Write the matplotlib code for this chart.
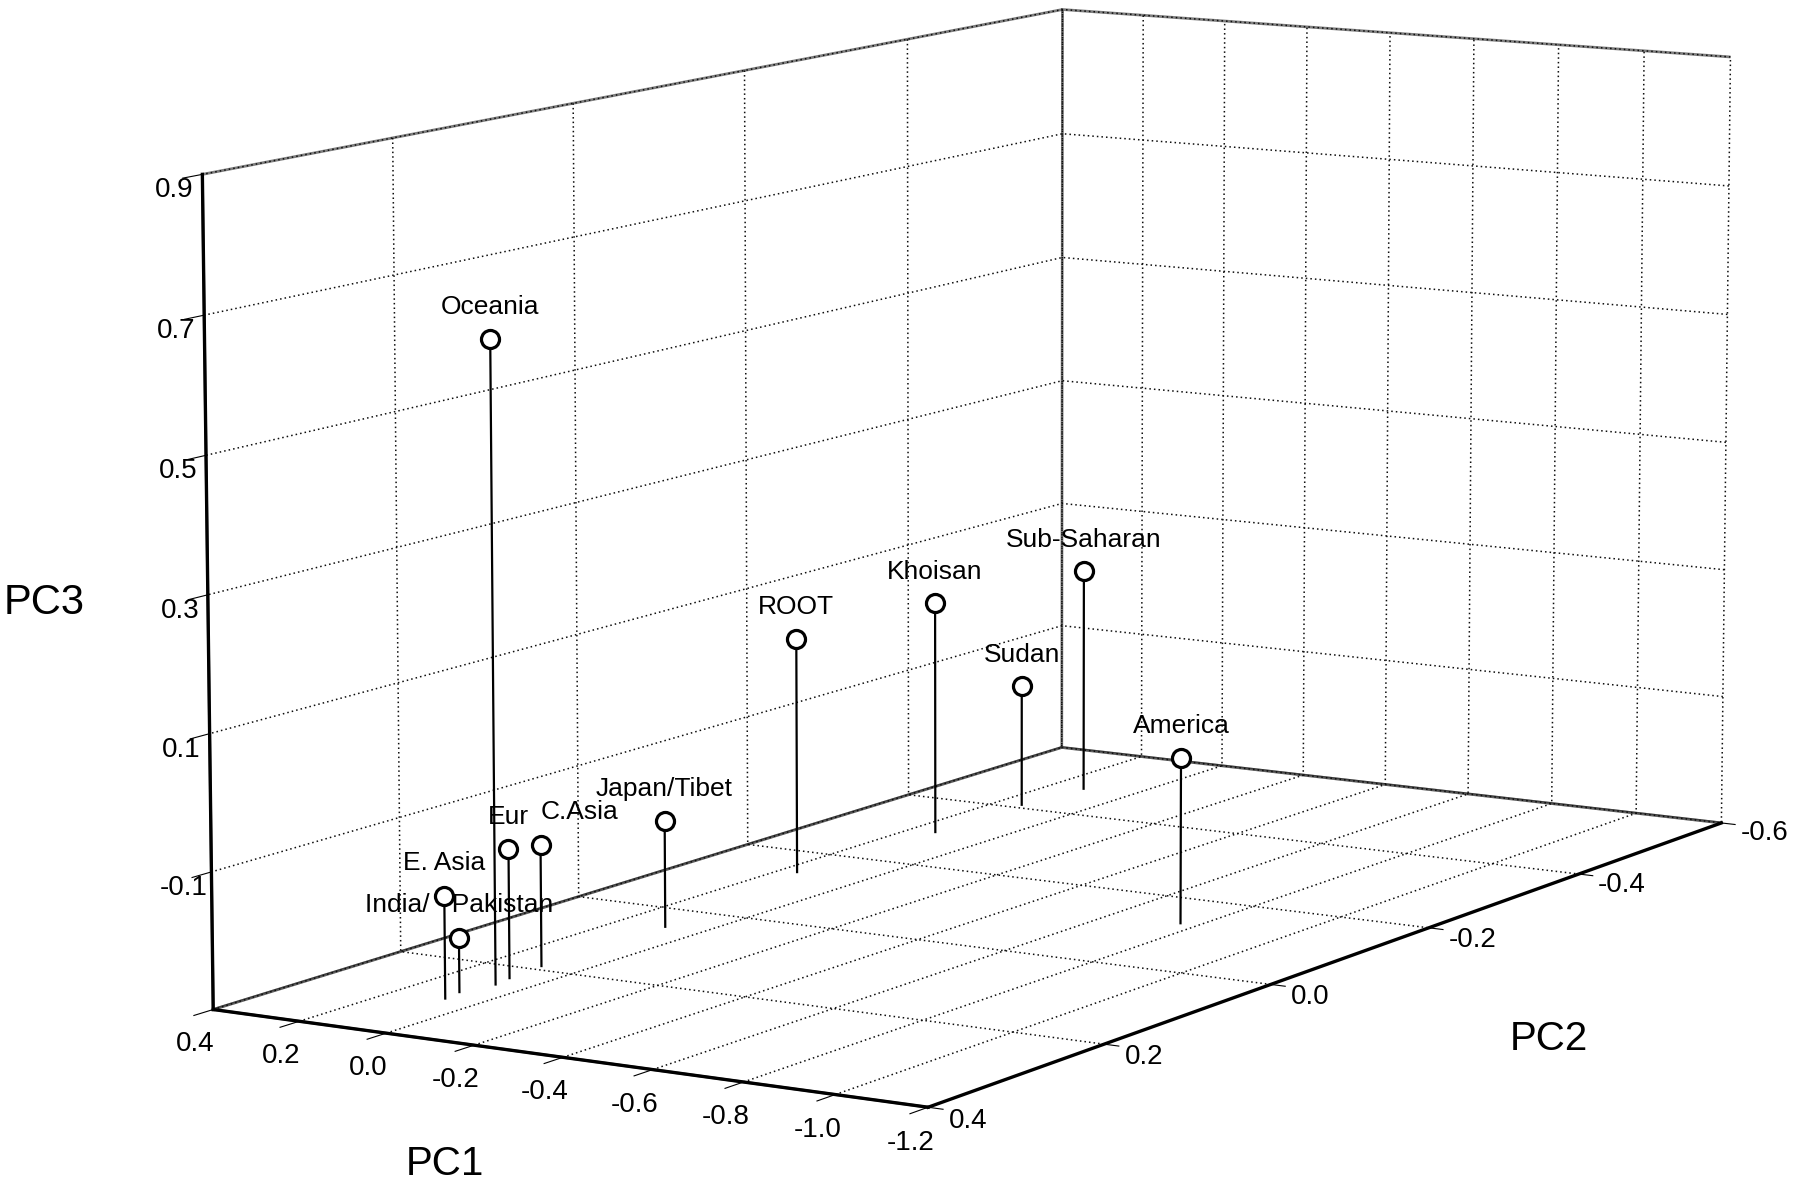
import numpy as np
import matplotlib.pyplot as plt
import matplotlib.text as mtext

plt.rcParams['axes.unicode_minus'] = False
plt.rcParams['font.family'] = ['Liberation Sans', 'DejaVu Sans']

# data (PC1, PC2, PC3)
names = ["Oceania", "E. Asia", "India/   Pakistan", "Eur", "C.Asia", "Japan/Tibet",
         "ROOT", "Khoisan", "Sudan", "Sub-Saharan", "America"]
pc1 = [0.07, 0.08, 0.09, 0.08, 0.09, 0.09, 0.16, 0.14, 0.14, 0.12, -0.76]
pc2 = [0.25, 0.30, 0.28, 0.23, 0.19, 0.05, -0.14, -0.30, -0.41, -0.48, -0.13]
pc3 = [0.64, -0.15, -0.22, -0.11, -0.12, -0.14, 0.06, 0.06, -0.11, 0.05, -0.05]
label_ha = ['center'] * 4 + ['left'] + ['center'] * 6

x_ticks = [-1.2, -1.0, -0.8, -0.6, -0.4, -0.2, 0.0, 0.2, 0.4]
y_ticks = [-0.6, -0.4, -0.2, 0.0, 0.2, 0.4]
z_ticks = [-0.1, 0.1, 0.3, 0.5, 0.7, 0.9]
zmin = -0.3

fig = plt.figure(figsize=(18, 11.83), dpi=100)
ax = fig.add_axes([0.047, 0.051, 1.0, 1.0], projection='3d', computed_zorder=False)
ax.set_proj_type('persp', focal_length=1.6)
ax.view_init(elev=9.5, azim=121.5)
ax.set_box_aspect((0.95, 1.85, 0.95), zoom=1.6)

ax.set_xlim(-1.2, 0.4)
ax.set_ylim(-0.6, 0.4)
ax.set_zlim(zmin, 0.9)
ax.set_xticks(x_ticks)
ax.set_yticks(y_ticks)
ax.set_zticks(z_ticks)
ax.set_xticklabels([f"{t:.1f}" for t in x_ticks])
ax.set_yticklabels([f"{t:.1f}" for t in y_ticks], ha='left', va='bottom')
ax.set_zticklabels([f"{t:.1f}" for t in z_ticks])
ax.zaxis.set_ticks_position('upper')
ax.tick_params(labelsize=20)
ax.tick_params(axis='x', pad=0.5)
ax.tick_params(axis='y', pad=4.5)
ax.tick_params(axis='z', pad=-0.5)

for axis in (ax.xaxis, ax.yaxis, ax.zaxis):
    axis.pane.set_facecolor((1, 1, 1, 0))
    axis.pane.set_edgecolor('k')
    axis.pane.set_linewidth(2.0)
    axis.line.set_color('k')
    axis.line.set_linewidth(2.4)
    axis.label.set_visible(False)
    axis.offsetText.set_visible(False)
    axis._axinfo['grid'].update(color='0.05', linestyle=(0, (1, 2)), linewidth=1.1)
    axis._axinfo['tick'].update(inward_factor=0.25, outward_factor=0.0)

# spikes down to the floor
for x, y, z in zip(pc1, pc2, pc3):
    ax.plot([x, x], [y, y], [zmin, z], color='k', lw=1.6, zorder=2)

ax.plot(pc1, pc2, pc3, ls='none', marker='o', ms=13, mfc='white', mec='k',
        mew=2.3, zorder=4)

for n, x, y, z, ha in zip(names, pc1, pc2, pc3, label_ha):
    ax.text(x, y, z + 0.03, n, ha=ha, va='bottom', fontsize=19, zorder=3)

fig.text(0.002, 0.49, "PC3", fontsize=30, ha='left', va='center')
fig.text(0.247, 0.016, "PC1", fontsize=29, ha='center', va='center')
fig.text(0.839, 0.122, "PC2", fontsize=29, ha='left', va='center')

for t in fig.findobj(mtext.Text):
    if t.get_text() == '':
        t.set_visible(False)

fig.savefig("out.png", dpi=100)
